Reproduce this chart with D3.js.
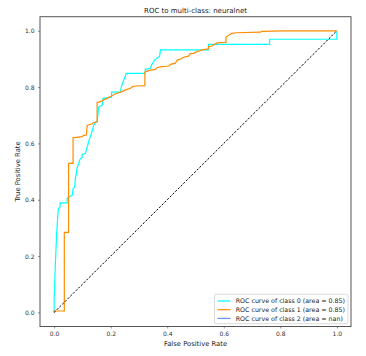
<!DOCTYPE html>
<html><head><meta charset="utf-8">
<script src="https://cdn.jsdelivr.net/npm/d3@7"></script>
<style>body{margin:0;background:#fff}svg{display:block}text{font-family:"DejaVu Sans",sans-serif}</style>
</head><body>
<script>
const titleText = "ROC to multi-class: neuralnet";
const xLabel = "False Positive Rate";
const yLabel = "True Positive Rate";
const tickValues = [0, 0.2, 0.4, 0.6, 0.8, 1.0];
const classNames = ["ROC curve of class 0 (area = 0.85)", "ROC curve of class 1 (area = 0.85)", "ROC curve of class 2 (area = nan)"];
const classColors = ["#00ffff", "#ff8c00", "#6495ed"];

const fpr0 = [0,0,.004,.009,.012,.015,.021,.021,.046,.046,.052,.064,.067,.073,.075,.079,.081,.087,.091,.099,.099,.111,.114,.119,.122,.128,.134,.140,.146,.152,.154,.158,.170,.173,.203,.203,.235,.237,.244,.250,.255,.321,.323,.341,.344,.355,.373,.376,.546,.546,.762,.762,1.0,1.0];
const tpr0 = [0,.044,.162,.281,.328,.369,.375,.389,.389,.405,.410,.416,.440,.446,.476,.494,.512,.529,.543,.551,.561,.565,.577,.594,.606,.624,.642,.665,.674,.677,.695,.730,.736,.760,.764,.782,.782,.798,.819,.835,.849,.849,.863,.867,.878,.896,.910,.932,.932,.952,.952,.970,.970,1.0];

const fpr1 = [0,0,.036,.036,.051,.051,.067,.067,.099,.103,.114,.117,.134,.140,.152,.152,.170,.173,.188,.193,.205,.211,.223,.235,.241,.252,.270,.276,.288,.321,.321,.329,.341,.358,.364,.376,.406,.412,.429,.435,.447,.458,.475,.481,.493,.505,.514,.522,.534,.546,.546,.558,.564,.575,.587,.608,.608,.628,.646,.729,.735,.811,1.0];
const tpr1 = [0,.005,.005,.284,.284,.529,.529,.620,.624,.628,.630,.665,.669,.674,.677,.745,.751,.754,.760,.764,.769,.774,.778,.782,.784,.790,.796,.801,.804,.805,.853,.857,.860,.863,.869,.872,.875,.881,.885,.896,.900,.906,.910,.918,.920,.926,.929,.932,.934,.936,.944,.946,.950,.956,.958,.959,.978,.991,.993,.995,.998,1.0,1.0];

const fpr2 = [];
const tpr2 = [];

const diagX = [0, 1];
const diagY = [0, 1];

const W = 366, H = 356;
const svg = d3.select("body").append("svg").attr("width", W).attr("height", H);
const L = 40, R = 351, T = 16.7, B = 326.5;
const x = d3.scaleLinear().domain([-0.05, 1.05]).range([L, R]);
const y = d3.scaleLinear().domain([-0.05, 1.05]).range([B, T]);

const curves = [[fpr0, tpr0], [fpr1, tpr1], [fpr2, tpr2]];
const line = d3.line().x(d => x(d[0])).y(d => y(d[1]));

curves.forEach((c, i) => {
  const pts = c[0].map((v, j) => [v, c[1][j]]);
  if (pts.length) svg.append("path").attr("d", line(pts)).attr("fill", "none")
    .attr("stroke", classColors[i]).attr("stroke-width", 1.2).attr("stroke-linejoin", "miter");
});

svg.append("path").attr("d", line(diagX.map((v, j) => [v, diagY[j]]))).attr("fill", "none")
  .attr("stroke", "#000").attr("stroke-width", 1).attr("stroke-dasharray", "2.2,1.6");

const xAxis = d3.axisBottom(x).tickValues(tickValues).tickFormat(d3.format(".1f")).tickSize(2).tickPadding(3.5);
const yAxis = d3.axisLeft(y).tickValues(tickValues).tickFormat(d3.format(".1f")).tickSize(2).tickPadding(3.5);
const gx = svg.append("g").attr("transform", `translate(0,${B})`).call(xAxis);
const gy = svg.append("g").attr("transform", `translate(${L},0)`).call(yAxis);
[gx, gy].forEach(g => {
  g.select(".domain").remove();
  g.selectAll("line").attr("stroke", "#444").attr("stroke-width", 0.6);
  g.selectAll("text").attr("font-size", 6).attr("fill", "#333").attr("font-family", "DejaVu Sans");
});

svg.append("rect").attr("x", L).attr("y", T).attr("width", R - L).attr("height", B - T)
  .attr("fill", "none").attr("stroke", "#555").attr("stroke-width", 1);

svg.append("text").attr("x", (L + R) / 2).attr("y", 13).attr("text-anchor", "middle")
  .attr("font-size", 7).attr("fill", "#222").text(titleText);
svg.append("text").attr("x", (L + R) / 2).attr("y", 346).attr("text-anchor", "middle")
  .attr("font-size", 6.8).attr("fill", "#222").text(xLabel);
svg.append("text").attr("transform", `translate(19.5,${(T + B) / 2}) rotate(-90)`).attr("text-anchor", "middle")
  .attr("font-size", 6.8).attr("fill", "#222").text(yLabel);

const lg = svg.append("g");
lg.append("rect").attr("x", 214.5).attr("y", 294.3).attr("width", 133.5).attr("height", 29.4)
  .attr("rx", 1.5).attr("fill", "#fff").attr("fill-opacity", 0.8).attr("stroke", "#ccc").attr("stroke-width", 0.7);
classNames.forEach((name, i) => {
  const yy = 301 + i * 8.7;
  lg.append("line").attr("x1", 217.5).attr("x2", 230.5).attr("y1", yy).attr("y2", yy)
    .attr("stroke", classColors[i]).attr("stroke-width", 1.2);
  lg.append("text").attr("x", 235.7).attr("y", yy + 2.2).attr("font-size", 6.3).attr("fill", "#222").text(name);
});
</script>
</body></html>
